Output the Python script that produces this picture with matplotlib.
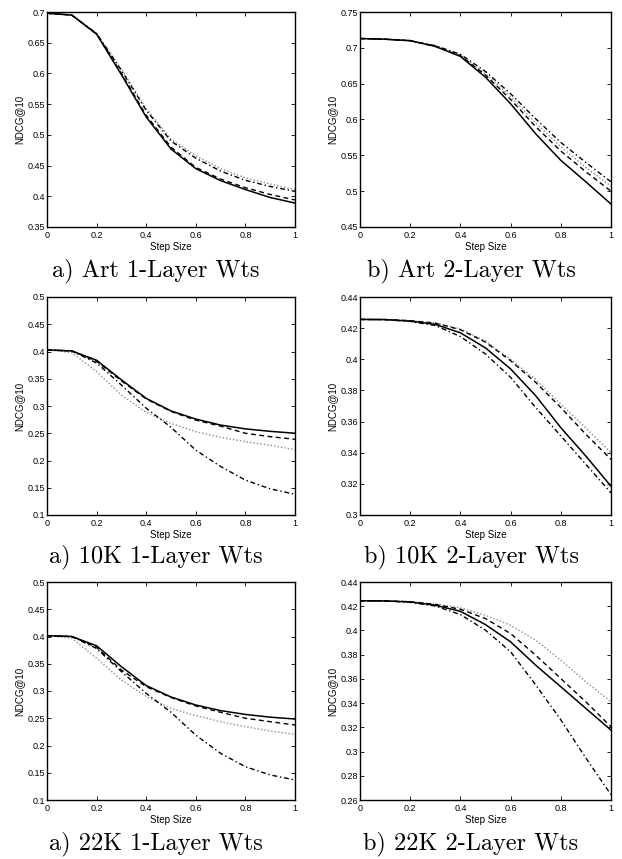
import matplotlib
matplotlib.use("Agg")
import matplotlib.pyplot as plt
from matplotlib.ticker import FuncFormatter, MultipleLocator

# ---------------- data ----------------
step = [0.0, 0.1, 0.2, 0.3, 0.4, 0.5, 0.6, 0.7, 0.8, 0.9, 1.0]

# a) Art 1-Layer Wts
art1_solid   = [0.698, 0.695, 0.664, 0.598, 0.529, 0.477, 0.445, 0.4255, 0.411, 0.398, 0.389]
art1_dashed  = [0.698, 0.695, 0.664, 0.600, 0.532, 0.480, 0.447, 0.428, 0.414, 0.403, 0.394]
art1_dotted  = [0.698, 0.695, 0.665, 0.607, 0.543, 0.493, 0.466, 0.445, 0.430, 0.420, 0.411]
art1_dashdot = [0.698, 0.695, 0.665, 0.605, 0.540, 0.490, 0.462, 0.441, 0.426, 0.416, 0.408]

# b) Art 2-Layer Wts
art2_solid   = [0.713, 0.712, 0.710, 0.702, 0.688, 0.659, 0.622, 0.580, 0.543, 0.513, 0.482]
art2_dashed  = [0.713, 0.712, 0.710, 0.702, 0.689, 0.662, 0.628, 0.590, 0.556, 0.527, 0.500]
art2_dotted  = [0.713, 0.712, 0.710, 0.703, 0.690, 0.664, 0.632, 0.595, 0.562, 0.533, 0.507]
art2_dashdot = [0.713, 0.712, 0.710, 0.703, 0.691, 0.667, 0.636, 0.601, 0.568, 0.540, 0.513]

# a) 10K 1-Layer Wts
k10a_solid   = [0.403, 0.401, 0.384, 0.348, 0.314, 0.291, 0.276, 0.265, 0.258, 0.2535, 0.250]
k10a_dashed  = [0.403, 0.401, 0.382, 0.346, 0.313, 0.290, 0.274, 0.263, 0.250, 0.2437, 0.239]
k10a_dotted  = [0.403, 0.398, 0.363, 0.320, 0.288, 0.268, 0.253, 0.2425, 0.2345, 0.228, 0.220]
k10a_dashdot = [0.403, 0.401, 0.379, 0.3385, 0.296, 0.261, 0.219, 0.189, 0.164, 0.148, 0.138]

# b) 10K 2-Layer Wts
k10b_solid   = [0.4256, 0.4255, 0.4245, 0.4224, 0.417, 0.4073, 0.3938, 0.3766, 0.3561, 0.3378, 0.3185]
k10b_dashed  = [0.4256, 0.4255, 0.4248, 0.4232, 0.419, 0.411, 0.3991, 0.3852, 0.369, 0.3518, 0.3357]
k10b_dotted  = [0.4256, 0.4255, 0.4248, 0.4234, 0.4195, 0.4118, 0.400, 0.387, 0.3712, 0.3558, 0.340]
k10b_dashdot = [0.4256, 0.4255, 0.4243, 0.4217, 0.4146, 0.4034, 0.3884, 0.369, 0.3508, 0.3325, 0.3142]

# a) 22K 1-Layer Wts
k22a_solid   = [0.4015, 0.400, 0.383, 0.3447, 0.310, 0.289, 0.2743, 0.264, 0.257, 0.252, 0.2486]
k22a_dashed  = [0.4015, 0.400, 0.380, 0.3385, 0.308, 0.288, 0.2725, 0.261, 0.250, 0.2437, 0.2376]
k22a_dotted  = [0.4015, 0.397, 0.360, 0.320, 0.290, 0.268, 0.2548, 0.2437, 0.2345, 0.2266, 0.2205]
k22a_dashdot = [0.4015, 0.400, 0.378, 0.3355, 0.2957, 0.261, 0.219, 0.1856, 0.161, 0.146, 0.1367]

# b) 22K 2-Layer Wts
k22b_solid   = [0.4245, 0.4244, 0.4235, 0.4208, 0.4158, 0.4048, 0.3906, 0.3713, 0.3535, 0.3356, 0.3177]
k22b_dashed  = [0.4245, 0.4244, 0.4237, 0.4215, 0.4175, 0.4098, 0.3974, 0.3796, 0.3603, 0.341, 0.3205]
k22b_dotted  = [0.4245, 0.4244, 0.4238, 0.4218, 0.4186, 0.4125, 0.4043, 0.3919, 0.3754, 0.3576, 0.3411]
k22b_dashdot = [0.4245, 0.4244, 0.4232, 0.4202, 0.4131, 0.4002, 0.3824, 0.355, 0.3262, 0.2946, 0.2644]

captions = ["a) Art 1-Layer Wts", "b) Art 2-Layer Wts",
            "a) 10K 1-Layer Wts", "b) 10K 2-Layer Wts",
            "a) 22K 1-Layer Wts", "b) 22K 2-Layer Wts"]
ylims = [(0.35, 0.70), (0.45, 0.75), (0.10, 0.50), (0.30, 0.44), (0.10, 0.50), (0.26, 0.44)]
ysteps = [0.05, 0.05, 0.05, 0.02, 0.05, 0.02]
xlabel = "Step Size"
ylabel = "NDCG@10"

panels = [
    (art1_solid, art1_dashed, art1_dotted, art1_dashdot),
    (art2_solid, art2_dashed, art2_dotted, art2_dashdot),
    (k10a_solid, k10a_dashed, k10a_dotted, k10a_dashdot),
    (k10b_solid, k10b_dashed, k10b_dotted, k10b_dashdot),
    (k22a_solid, k22a_dashed, k22a_dotted, k22a_dashdot),
    (k22b_solid, k22b_dashed, k22b_dotted, k22b_dashdot),
]

# ---------------- figure ----------------
W, H = 622, 859
fig = plt.figure(figsize=(W / 100, H / 100), dpi=100)
fig.patch.set_facecolor("white")

sans = ["Liberation Sans", "DejaVu Sans"]
serif = ["cmr10", "DejaVu Serif"]

# axes boxes in pixels (left, top, right, bottom)
col_x = [(47, 295), (360, 611)]
row_y = [(12, 227), (297, 515), (582, 800)]
cap_y = [271, 557, 844]
cap_x = [156, 471]

fmt = FuncFormatter(lambda v, p: ("%g" % round(v, 4)))

for i, series in enumerate(panels):
    r, c = divmod(i, 2)
    x0, x1 = col_x[c]
    y0, y1 = row_y[r]
    ax = fig.add_axes([x0 / W, 1 - y1 / H, (x1 - x0) / W, (y1 - y0) / H])
    s_solid, s_dashed, s_dotted, s_dashdot = series
    ax.plot(step, s_dotted, linestyle=(0, (1, 1.5)), color="#8c8c8c", lw=1.0)
    ax.plot(step, s_dashdot, linestyle=(0, (3.5, 2, 1, 2)), color="black", lw=1.0)
    ax.plot(step, s_dashed, linestyle=(0, (3.5, 2.5)), color="black", lw=1.0)
    ax.plot(step, s_solid, linestyle="-", color="black", lw=1.1)
    ax.set_xlim(0, 1)
    ax.set_ylim(*ylims[i])
    ax.xaxis.set_major_locator(MultipleLocator(0.2))
    ax.yaxis.set_major_locator(MultipleLocator(ysteps[i]))
    ax.xaxis.set_major_formatter(fmt)
    ax.yaxis.set_major_formatter(fmt)
    ax.tick_params(direction="in", top=True, right=True, length=3, width=0.6,
                   labelsize=6.5, colors="black")
    ax.tick_params(axis="x", pad=3)
    ax.tick_params(axis="y", pad=1.5)
    for lab in ax.get_xticklabels() + ax.get_yticklabels():
        lab.set_family(sans)
    for sp in ax.spines.values():
        sp.set_linewidth(1.0)
    ax.set_xlabel(xlabel, family=sans, fontsize=7, labelpad=1.5)
    ax.set_ylabel(ylabel, family=sans, fontsize=7, labelpad=2)
    fig.text(cap_x[c] / W, 1 - cap_y[r] / H, captions[i], family=serif,
             fontsize=17.5, ha="center", va="center")

fig.savefig("out.png", dpi=100, facecolor="white")
